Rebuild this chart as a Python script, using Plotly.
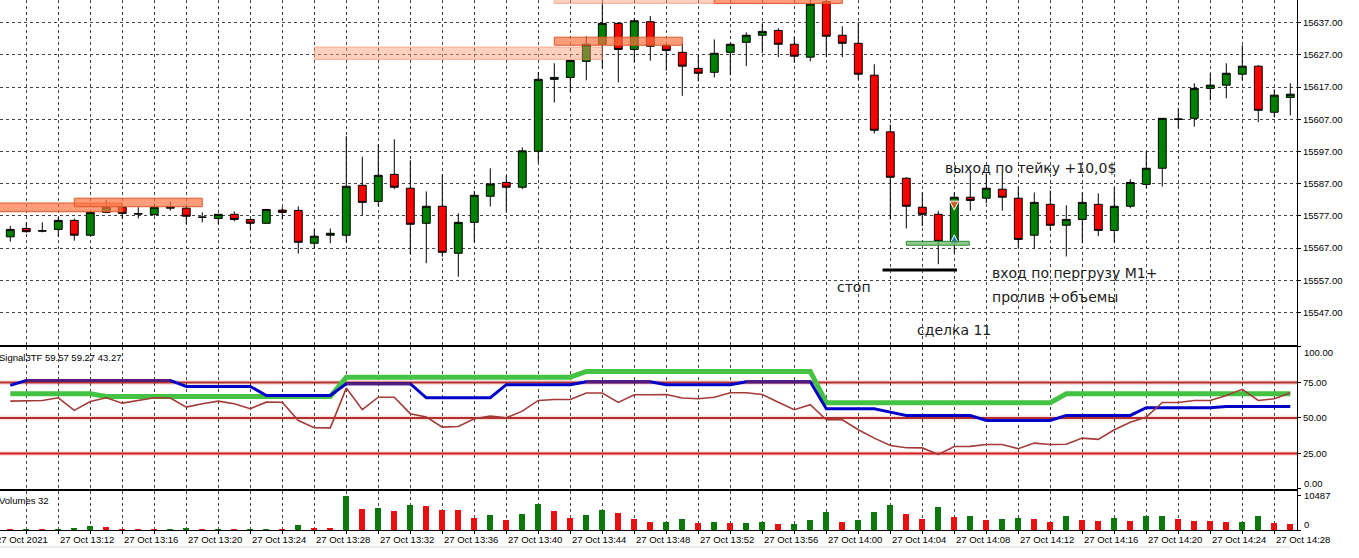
import pandas as pd
import plotly.graph_objects as go
from plotly.subplots import make_subplots

# 1-minute bars, 27 Oct 2021
times = pd.date_range("2021-10-27 13:09", periods=81, freq="1min")

opens = [
    15570.5, 15573.1, 15572.4, 15572.8, 15575.6, 15571.0, 15578.1, 15579.7, 15577.7, 15577.4,
    15579.9, 15579.4, 15576.6, 15576.2, 15577.5, 15575.9, 15574.7, 15578.8, 15578.7, 15568.5,
    15571.0, 15571.0, 15586.5, 15581.5, 15589.9, 15585.6, 15574.7, 15580.0, 15565.4, 15575.0,
    15583.1, 15587.4, 15585.9, 15597.1, 15619.4, 15620.0, 15625.0, 15630.3, 15636.8, 15628.7,
    15637.3, 15630.0, 15627.8, 15622.8, 15621.6, 15627.8, 15630.9, 15633.1, 15634.6, 15630.3,
    15626.3, 15643.5, 15633.1, 15630.6, 15620.7, 15603.1, 15588.7, 15579.7, 15577.5, 15568.5,
    15582.8, 15582.5, 15585.3, 15582.5, 15571.0, 15580.6, 15574.1, 15575.9, 15580.6, 15572.5,
    15580.0, 15586.8, 15591.8, 15607.1, 15607.3, 15616.6, 15617.6, 15621.0, 15623.5, 15609.2,
    15613.8,
]
highs = [
    15573.9, 15575.0, 15575.0, 15576.7, 15576.2, 15578.2, 15581.9, 15580.7, 15579.7, 15580.7,
    15581.4, 15579.8, 15578.1, 15577.6, 15578.4, 15576.0, 15579.1, 15579.7, 15580.0, 15572.8,
    15573.1, 15601.8, 15595.4, 15599.2, 15600.8, 15594.3, 15584.6, 15589.9, 15577.8, 15584.8,
    15591.8, 15589.6, 15598.3, 15621.7, 15624.4, 15625.4, 15632.8, 15643.1, 15637.2, 15638.5,
    15639.1, 15630.1, 15630.6, 15626.9, 15631.8, 15630.7, 15634.0, 15636.8, 15635.3, 15632.5,
    15645.0, 15646.0, 15635.9, 15637.1, 15624.1, 15605.4, 15589.0, 15584.3, 15578.6, 15584.3,
    15590.7, 15590.2, 15590.5, 15586.1, 15584.3, 15584.9, 15580.3, 15584.3, 15584.0, 15585.9,
    15588.4, 15597.1, 15607.4, 15610.4, 15618.2, 15621.3, 15624.4, 15630.0, 15623.8, 15616.3,
    15618.2,
]
lows = [
    15569.0, 15571.8, 15571.9, 15570.5, 15569.3, 15570.9, 15577.8, 15576.2, 15576.2, 15577.1,
    15578.6, 15574.4, 15575.0, 15574.4, 15575.3, 15572.8, 15574.6, 15575.9, 15565.3, 15566.9,
    15568.5, 15568.8, 15577.2, 15580.0, 15585.3, 15565.1, 15562.3, 15564.3, 15558.1, 15568.8,
    15579.9, 15578.4, 15585.3, 15593.6, 15612.2, 15615.4, 15619.1, 15622.8, 15618.5, 15624.7,
    15625.2, 15622.1, 15614.3, 15618.8, 15620.0, 15620.7, 15623.5, 15627.5, 15626.3, 15624.7,
    15625.0, 15626.3, 15626.3, 15619.4, 15602.6, 15575.9, 15573.1, 15573.8, 15562.0, 15565.4,
    15578.6, 15580.9, 15578.6, 15567.2, 15566.9, 15572.5, 15564.4, 15568.5, 15570.7, 15568.8,
    15579.4, 15585.6, 15586.1, 15604.2, 15604.7, 15612.9, 15613.5, 15619.1, 15606.1, 15607.6,
    15608.2,
]
closes = [
    15572.8, 15572.1, 15572.3, 15575.6, 15571.0, 15578.1, 15579.7, 15577.8, 15577.6, 15579.7,
    15579.4, 15576.9, 15576.6, 15577.5, 15575.9, 15574.7, 15579.0, 15578.1, 15568.8, 15570.7,
    15571.6, 15586.2, 15581.2, 15589.6, 15585.9, 15574.4, 15580.0, 15565.7, 15575.0, 15583.4,
    15586.9, 15585.9, 15597.2, 15619.4, 15620.0, 15625.3, 15630.3, 15636.8, 15628.7, 15637.6,
    15629.7, 15628.4, 15623.5, 15621.3, 15627.5, 15630.3, 15633.1, 15634.3, 15630.3, 15626.6,
    15642.8, 15632.8, 15630.6, 15621.0, 15603.6, 15589.0, 15580.0, 15577.5, 15569.1, 15582.8,
    15581.8, 15585.6, 15582.8, 15569.7, 15581.2, 15574.1, 15575.9, 15581.2, 15572.5, 15580.0,
    15587.4, 15591.8, 15607.3, 15607.0, 15616.6, 15617.6, 15621.3, 15623.5, 15609.8, 15614.5,
    15614.8,
]
volumes = [
    250, 300, 250, 320, 600, 1300, 900, 300, 250, 200,
    280, 600, 300, 350, 300, 330, 360, 300, 1500, 600,
    580, 10487, 6300, 6600, 5700, 7500, 7200, 6100, 6000, 3600,
    4500, 3000, 4800, 8100, 5700, 3600, 4500, 6000, 5100, 3300,
    2300, 2450, 3300, 2100, 2400, 2100, 2150, 2400, 1800, 1850,
    3000, 5400, 2400, 3000, 5400, 7500, 4800, 3300, 6900, 3900,
    4200, 3000, 3300, 3600, 3300, 2400, 4200, 3000, 2700, 3600,
    2700, 4200, 4250, 3300, 2700, 2650, 2400, 2450, 4200, 2100,
    1800,
]

# Signal3TF lines
sig_green = [67.0] * 6 + [65.1] * 15 + [78.7] * 15 + [82.7] * 15 + [60.7] * 15 + [67.0] * 15
sig_blue = ([72.9] + [76.4] * 10 + [72.2] * 5 + [65.8] * 5 + [74.1] * 5 + [64.2] * 5
            + [73.4] * 5 + [75.5] * 5 + [73.4] * 5 + [75.5] * 5 + [56.5] * 4 + [54.1]
            + [51.8] * 5 + [48.2] * 5 + [51.8] * 5 + [57.2] * 5 + [58.1] * 5)
sig_brown = [
    61.8, 62.3, 62.3, 64.2, 55.3, 61.6, 64.2, 60.4, 62.3, 64.2,
    64.0, 57.6, 60.0, 61.8, 60.0, 56.5, 61.1, 61.0, 48.2, 43.1,
    43.0, 71.0, 55.8, 64.6, 64.6, 53.0, 50.6, 43.5, 44.0, 49.4,
    51.3, 50.1, 54.8, 62.3, 63.0, 63.0, 67.5, 67.5, 60.9, 66.3,
    66.3, 66.5, 64.0, 63.5, 64.6, 67.7, 67.7, 66.5, 61.1, 55.8,
    59.3, 48.7, 48.7, 41.7, 35.8, 30.6, 29.0, 28.9, 24.3, 29.9,
    30.0, 31.3, 31.3, 28.3, 32.3, 31.3, 31.5, 35.8, 34.9, 41.7,
    47.0, 50.6, 60.9, 60.9, 62.3, 62.3, 65.8, 70.1, 62.3, 63.5,
    67.7,
]
levels = [75, 50, 25]

price_ticks = [15547, 15557, 15567, 15577, 15587, 15597, 15607, 15617, 15627, 15637]
sig_ticks = [0, 25, 50, 75, 100]
vol_ticks = [0, 10487]

FONT = "Liberation Sans"
GRID = "#444444"

fig = make_subplots(rows=3, cols=1, shared_xaxes=True, vertical_spacing=0.0)

fig.add_trace(go.Candlestick(
    x=times, open=opens, high=highs, low=lows, close=closes,
    increasing=dict(fillcolor="#008000", line=dict(color="black", width=1)),
    decreasing=dict(fillcolor="#ff0000", line=dict(color="black", width=1)),
    whiskerwidth=0, showlegend=False, hoverinfo="skip",
), row=1, col=1)

# trade arrows on the entry candle
fig.add_trace(go.Scatter(
    x=[times[59]], y=[15578.8], mode="markers",
    marker=dict(symbol="arrow-down", size=9, color="#c8602e", line=dict(color="white", width=1)),
    showlegend=False, hoverinfo="skip"), row=1, col=1)
fig.add_trace(go.Scatter(
    x=[times[59]], y=[15571.1], mode="markers",
    marker=dict(symbol="arrow-up", size=9, color="#2a7cc4", line=dict(color="white", width=1)),
    showlegend=False, hoverinfo="skip"), row=1, col=1)

# indicator
fig.add_trace(go.Scatter(x=times, y=sig_green, mode="lines",
                         line=dict(color="#44c244", width=5), showlegend=False), row=2, col=1)
fig.add_trace(go.Scatter(x=times, y=sig_blue, mode="lines",
                         line=dict(color="#0000c8", width=3), showlegend=False), row=2, col=1)
blue_on_level = [v if abs(v - 75) < 1.5 else None for v in sig_blue]
fig.add_trace(go.Scatter(x=times, y=blue_on_level, mode="lines",
                         line=dict(color="#561c7a", width=3), showlegend=False), row=2, col=1)
fig.add_trace(go.Scatter(x=times, y=sig_brown, mode="lines",
                         line=dict(color="#a33a36", width=1.6), showlegend=False), row=2, col=1)

# volumes, green when volume grew vs previous bar
vol_colors = ["#e81010"] + ["#0a780a" if volumes[i] > volumes[i - 1] else "#e81010"
                            for i in range(1, len(volumes))]
fig.add_trace(go.Bar(x=times, y=volumes, marker=dict(color=vol_colors, line=dict(width=0)),
                     width=22500, showlegend=False), row=3, col=1)

t0 = pd.Timestamp("2021-10-27 13:09") - pd.Timedelta(seconds=38.6)
t1 = t0 + pd.Timedelta(seconds=1297 / 16 * 60)
grid_times = pd.date_range("2021-10-27 13:10", "2021-10-27 14:28", freq="2min")

xcommon = dict(range=[t0, t1], tickvals=grid_times, showticklabels=False,
               showgrid=True, gridcolor=GRID, griddash="3px,3px", gridwidth=1,
               linecolor="black", linewidth=1, zeroline=False, rangeslider=dict(visible=False))
fig.update_layout(
    xaxis=dict(**xcommon, showline=True, mirror=False, ticks=""),
    xaxis2=dict(**xcommon, showline=True, mirror=True, ticks=""),
    xaxis3=dict(**xcommon, showline=True, mirror=True, ticks="outside", ticklen=3, tickcolor="black"),
)

ycommon = dict(side="right", showline=True, linecolor="black", linewidth=1,
               ticks="outside", ticklen=3, tickcolor="black", zeroline=False,
               tickfont=dict(family=FONT, size=9.5, color="black"))
fig.update_layout(
    yaxis=dict(**ycommon, domain=[0.349, 1.0], range=[15536.9, 15644.05],
               tickvals=price_ticks, ticktext=[f"{v}.00" for v in price_ticks],
               showgrid=True, gridcolor=GRID, griddash="3px,3px", gridwidth=1),
    # edge labels (100 / 0, 10487 / 0) are set as annotations so they sit inside the panel
    yaxis2=dict(**ycommon, domain=[0.0774, 0.3455], range=[0, 100],
                tickvals=sig_ticks, ticktext=["" if v in (0, 100) else f"{v}.00" for v in sig_ticks],
                showgrid=False),
    yaxis3=dict(**ycommon, domain=[0.0, 0.0736], range=[0, 11924],
                tickvals=vol_ticks, ticktext=["", ""], showgrid=False),
)

shapes = []
# indicator levels
for lv in levels:
    col = "#d21c1c" if lv == 25 else "#b3302c"
    shapes.append(dict(type="line", xref="x2 domain", yref="y2", x0=0, x1=1, y0=lv, y1=lv,
                       line=dict(color="rgba(230,120,120,0.22)", width=5), layer="below"))
    shapes.append(dict(type="line", xref="x2 domain", yref="y2", x0=0, x1=1, y0=lv, y1=lv,
                       line=dict(color=col, width=2), layer="below"))

light = dict(fillcolor="rgba(255,150,110,0.45)", line=dict(color="rgba(240,130,90,0.55)", width=1))
dark = dict(fillcolor="rgba(255,115,65,0.7)", line=dict(color="#dd5a28", width=1))
zones = [
    ("2021-10-27 13:28", "2021-10-27 13:46", 15625.6, 15629.45, light),
    ("2021-10-27 13:05", "2021-10-27 13:16", 15578.3, 15581.0, dark),
    ("2021-10-27 13:13", "2021-10-27 13:21", 15579.85, 15582.5, dark),
    ("2021-10-27 13:43", "2021-10-27 13:51", 15630.0, 15632.5, dark),
    ("2021-10-27 13:43", "2021-10-27 13:53", 15643.0, 15650.0, light),
    ("2021-10-27 13:53", "2021-10-27 14:01", 15643.0, 15650.0, dark),
]
for xa, xb, ya, yb, st in zones:
    shapes.append(dict(type="rect", xref="x", yref="y", x0=xa, x1=xb, y0=ya, y1=yb,
                       layer="above", **st))
shapes.append(dict(type="rect", xref="x", yref="y", x0="2021-10-27 14:05", x1="2021-10-27 14:08:56",
                   y0=15567.9, y1=15569.1, fillcolor="rgba(110,185,110,0.75)",
                   line=dict(color="#2e8b2e", width=1), layer="above"))
shapes.append(dict(type="line", xref="x", yref="y", x0="2021-10-27 14:03:31", x1="2021-10-27 14:08:10",
                   y0=15560.2, y1=15560.2, line=dict(color="black", width=3), layer="above"))
shapes.append(dict(type="line", xref="paper", yref="paper", x0=0, x1=0.995, y0=-0.032, y1=-0.032,
                   line=dict(color="#d8d8d8", width=1), layer="above"))

small = dict(family=FONT, size=9.5, color="black")
annotations = []
# time labels, left aligned at the grid line like MT4
annotations.append(dict(text="27 Oct 2021", xref="paper", yref="paper", x=-0.0044, y=-0.018,
                        xanchor="left", yanchor="middle", showarrow=False, font=small))
for t in pd.date_range("2021-10-27 13:12", "2021-10-27 14:28", freq="4min"):
    annotations.append(dict(text=f"27 Oct {t:%H:%M}", xref="x3", yref="paper", x=t, y=-0.018,
                            xanchor="left", yanchor="middle", showarrow=False, font=small))

# right-side labels at the panel edges
for txt, py in [("100.00", 0.3353), ("0.00", 0.0881), ("10487", 0.0647), ("0", 0.0108)]:
    annotations.append(dict(text=txt, xref="paper", yref="paper", x=1.0035, y=py,
                            xanchor="left", yanchor="middle", showarrow=False, font=small))

annotations.append(dict(text="Signal3TF 59.57 59.27 43.27", xref="paper", yref="paper", x=-0.002, y=0.326,
                        xanchor="left", yanchor="middle", showarrow=False, font=small))
annotations.append(dict(text="Volumes 32", xref="paper", yref="paper", x=-0.002, y=0.055,
                        xanchor="left", yanchor="middle", showarrow=False, font=small))

notes = [
    ("выход по тейку +10,0$", "2021-10-27 14:07:16", 15591.9),
    ("вход по пергрузу M1+", "2021-10-27 14:10:14", 15559.3),
    ("пролив +объемы", "2021-10-27 14:10:14", 15551.8),
    ("сделка 11", "2021-10-27 14:05:32", 15541.6),
    ("стоп", "2021-10-27 14:00:32", 15554.9),
]
for txt, tx, ty in notes:
    annotations.append(dict(text=txt, xref="x", yref="y", x=tx, y=ty, xanchor="left",
                            yanchor="middle", showarrow=False,
                            font=dict(family="DejaVu Sans", size=14, color="#1c1c1c")))

fig.update_layout(
    width=1359, height=558,
    margin=dict(l=0, r=62, t=0, b=28),
    plot_bgcolor="white", paper_bgcolor="white",
    shapes=shapes, annotations=annotations,
    bargap=0, showlegend=False, hovermode=False,
)

# drop the browser's default 8px body margin so the chart fills the window
fig.write_html("out.html", config={"displayModeBar": False},
               post_script="document.body.style.margin='0px';")
